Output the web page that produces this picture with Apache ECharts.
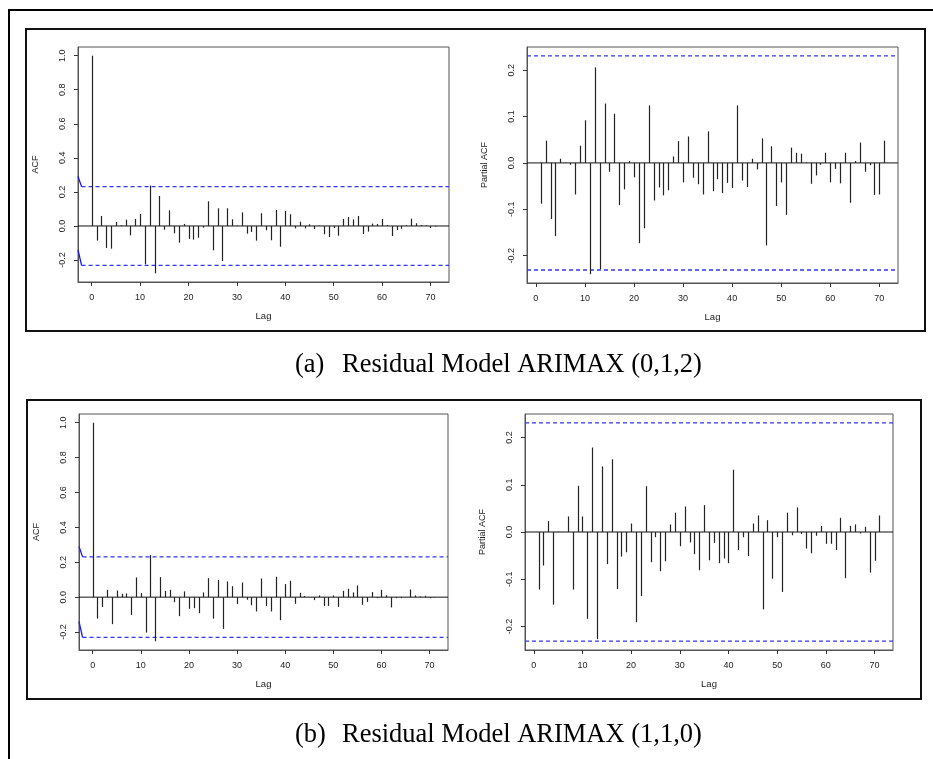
<!DOCTYPE html>
<html>
<head>
<meta charset="utf-8">
<title>Residual ACF / PACF</title>
<script src="https://cdn.jsdelivr.net/npm/echarts@6.0.0/dist/echarts.min.js"></script>
<style>
html, body { margin: 0; padding: 0; background: #fff; }
#chart { width: 933px; height: 759px; }
</style>
</head>
<body>
<div id="chart"></div>
<script>
// lags
const acfLags = [0, 1, 2, 3, 4, 5, 6, 7, 8, 9, 10, 11, 12, 13, 14, 15, 16, 17, 18, 19, 20, 21, 22, 23, 24, 25, 26, 27, 28, 29, 30, 31, 32, 33, 34, 35,
  36, 37, 38, 39, 40, 41, 42, 43, 44, 45, 46, 47, 48, 49, 50, 51, 52, 53, 54, 55, 56, 57, 58, 59, 60, 61, 62, 63, 64, 65, 66, 67, 68, 69, 70, 71]
const pacfLags = [1, 2, 3, 4, 5, 6, 7, 8, 9, 10, 11, 12, 13, 14, 15, 16, 17, 18, 19, 20, 21, 22, 23, 24, 25, 26, 27, 28, 29, 30, 31, 32, 33, 34, 35,
  36, 37, 38, 39, 40, 41, 42, 43, 44, 45, 46, 47, 48, 49, 50, 51, 52, 53, 54, 55, 56, 57, 58, 59, 60, 61, 62, 63, 64, 65, 66, 67, 68, 69, 70, 71]

// (a) ARIMAX (0,1,2)
const acfA = [1.0, -0.086, 0.059, -0.129, -0.133, 0.024, 0.005, 0.037, -0.055, 0.041, 0.071, -0.225, 0.237, -0.278, 0.176, -0.022, 0.092, -0.043,
  -0.098, 0.012, -0.076, -0.080, -0.069, -0.010, 0.145, -0.143, 0.104, -0.206, 0.104, 0.039, 0.003, 0.080, -0.045, -0.035, -0.086, 0.075,
  -0.025, -0.084, 0.094, -0.122, 0.088, 0.069, -0.014, 0.025, -0.014, 0.010, -0.018, 0.002, -0.049, -0.065, -0.012, -0.057, 0.041, 0.053,
  0.039, 0.059, -0.047, -0.033, 0.014, 0.012, 0.041, 0.006, -0.059, -0.024, -0.016, 0.004, 0.043, 0.016, 0.006, 0.004, -0.012, -0.004]
const pacfA = [-0.088, 0.048, -0.121, -0.158, 0.009, 0.001, -0.004, -0.068, 0.037, 0.092, -0.240, 0.206, -0.229, 0.128, -0.019, 0.106, -0.091,
  -0.057, 0.004, -0.031, -0.173, -0.141, 0.124, -0.081, -0.053, -0.070, -0.059, 0.014, 0.047, -0.042, 0.057, -0.032, -0.046, -0.068, 0.068,
  -0.061, -0.035, -0.065, -0.043, -0.054, 0.124, -0.038, -0.052, 0.009, -0.014, 0.053, -0.178, 0.036, -0.093, -0.042, -0.112, 0.033, 0.022,
  0.020, 0.001, -0.045, -0.027, -0.004, 0.022, -0.042, -0.013, -0.044, 0.022, -0.086, 0.004, 0.044, -0.019, -0.005, -0.069, -0.068, 0.048]

// (b) ARIMAX (1,1,0)
const acfB = [1.0, -0.123, -0.056, 0.042, -0.155, 0.038, 0.019, 0.021, -0.102, 0.113, 0.023, -0.203, 0.241, -0.253, 0.115, 0.036, 0.042, -0.029,
  -0.109, 0.033, -0.067, -0.063, -0.092, 0.027, 0.109, -0.123, 0.098, -0.182, 0.090, 0.063, -0.040, 0.084, -0.015, -0.046, -0.082, 0.107,
  -0.050, -0.082, 0.117, -0.132, 0.075, 0.094, -0.038, 0.025, 0.006, 0.001, -0.017, 0.010, -0.050, -0.050, 0.010, -0.056, 0.036, 0.048,
  0.027, 0.067, -0.044, -0.027, 0.029, -0.006, 0.042, 0.011, -0.059, -0.006, -0.006, 0.001, 0.044, 0.010, 0.004, 0.008, -0.006, -0.002]
const pacfB = [-0.122, -0.071, 0.023, -0.154, 0.001, 0.000, 0.033, -0.122, 0.098, 0.033, -0.184, 0.179, -0.227, 0.139, -0.068, 0.154, -0.121,
  -0.052, -0.043, 0.018, -0.191, -0.136, 0.097, -0.064, -0.011, -0.083, -0.062, 0.016, 0.041, -0.030, 0.054, -0.022, -0.047, -0.081, 0.057,
  -0.060, -0.023, -0.066, -0.056, -0.066, 0.132, -0.038, -0.011, -0.051, 0.018, 0.035, -0.164, 0.025, -0.099, -0.011, -0.127, 0.041, -0.007,
  0.052, -0.004, -0.035, -0.045, -0.008, 0.013, -0.025, -0.025, -0.038, 0.030, -0.098, 0.013, 0.016, -0.003, 0.011, -0.086, -0.061, 0.035]

// confidence bound (1.96/sqrt(n))
const ci = 0.231
// the short solid blue stub at the left of the acf plots
const ciHeadUpper = [0.29, 0.231]
const ciHeadLower = [-0.14, -0.231]

// tick labels
const lagTicks = [0, 10, 20, 30, 40, 50, 60, 70]
const acfTicks = [-0.2, 0.0, 0.2, 0.4, 0.6, 0.8, 1.0]
const pacfTicks = [-0.2, -0.1, 0.0, 0.1, 0.2]

const captionA = ['(a)', 'Residual Model ARIMAX (0,1,2)']
const captionB = ['(b)', 'Residual Model ARIMAX (1,1,0)']

const sans = 'Liberation Sans, Arial, sans-serif'
const serif = 'Liberation Serif, Times New Roman, serif'

const panels = [
  {grid: {left: 78, top: 47, width: 371, height: 235}, lags: acfLags, vals: acfA, yMin: -0.329, yMax: 1.051, xMin: -2.84, xMax: 73.84, ticks: acfTicks, name: 'ACF', acf: true},
  {grid: {left: 527, top: 47, width: 371, height: 236}, lags: pacfLags, vals: pacfA, yMin: -0.259, yMax: 0.250, xMin: -1.8, xMax: 73.8, ticks: pacfTicks, name: 'Partial ACF', acf: false},
  {grid: {left: 79, top: 414, width: 369, height: 236}, lags: acfLags, vals: acfB, yMin: -0.303, yMax: 1.050, xMin: -2.84, xMax: 73.84, ticks: acfTicks, name: 'ACF', acf: true},
  {grid: {left: 525, top: 414, width: 368, height: 236}, lags: pacfLags, vals: pacfB, yMin: -0.250, yMax: 0.250, xMin: -1.8, xMax: 73.8, ticks: pacfTicks, name: 'Partial ACF', acf: false}
]

// horizontal segment from x0 to x1 at height y
function hSegment(i, x0, x1, y, style, z) {
  return {
    type: 'custom', xAxisIndex: i, yAxisIndex: i, silent: true, z: z,
    data: [[x0, x1, y]],
    renderItem: function (params, api) {
      const a = api.coord([api.value(0), api.value(2)])
      const b = api.coord([api.value(1), api.value(2)])
      return {type: 'line', shape: {x1: a[0], y1: a[1], x2: b[0], y2: b[1]}, style: style}
    }
  }
}

const grids = []
const xAxes = []
const yAxes = []
const series = []

panels.forEach((p, i) => {
  grids.push(Object.assign({show: true, borderColor: '#555', borderWidth: 1}, p.grid))
  xAxes.push({
    type: 'value', gridIndex: i, min: p.xMin, max: p.xMax,
    name: 'Lag', nameLocation: 'middle', nameGap: 29,
    nameTextStyle: {fontFamily: sans, fontSize: 9.5, color: '#222'},
    axisLine: {show: true, onZero: false, lineStyle: {color: '#555', width: 1}},
    axisTick: {show: true, inside: false, length: 4, customValues: lagTicks, lineStyle: {color: '#333', width: 1}},
    axisLabel: {customValues: lagTicks, margin: 11, fontFamily: sans, fontSize: 9, color: '#222'},
    splitLine: {show: false}
  })
  yAxes.push({
    type: 'value', gridIndex: i, min: p.yMin, max: p.yMax,
    name: p.name, nameLocation: 'middle', nameGap: 38, nameRotate: 90,
    nameTextStyle: {fontFamily: sans, fontSize: 9, color: '#222'},
    axisLine: {show: true, onZero: false, lineStyle: {color: '#555', width: 1}},
    axisTick: {show: true, inside: false, length: 4, customValues: p.ticks, lineStyle: {color: '#333', width: 1}},
    axisLabel: {
      customValues: p.ticks, rotate: 90, margin: 11, fontFamily: sans, fontSize: 9, color: '#222',
      formatter: v => v.toFixed(1)
    },
    splitLine: {show: false}
  })

  // vertical spikes, R type = "h"
  series.push({
    type: 'custom', xAxisIndex: i, yAxisIndex: i,
    data: p.lags.map((l, k) => [l, p.vals[k]]),
    renderItem: function (params, api) {
      const a = api.coord([api.value(0), 0])
      const b = api.coord([api.value(0), api.value(1)])
      return {
        type: 'line',
        shape: {x1: Math.round(a[0]) + 0.5, y1: a[1], x2: Math.round(b[0]) + 0.5, y2: b[1]},
        style: {stroke: '#222', lineWidth: 1.2}
      }
    },
    z: 3
  })
  // zero line
  series.push(hSegment(i, p.xMin, p.xMax, 0, {stroke: '#111', lineWidth: 1}, 2))
  const start = p.acf ? -2.1 : p.xMin
  series.push(hSegment(i, start, p.xMax, ci, {stroke: '#3434f4', lineWidth: 1.3, lineDash: [4, 3]}, 2))
  series.push(hSegment(i, start, p.xMax, -ci, {stroke: '#3434f4', lineWidth: 1.3, lineDash: [4, 3]}, 2))
  if (p.acf) {
    [ciHeadUpper, ciHeadLower].forEach(h => {
      series.push({
        type: 'line', xAxisIndex: i, yAxisIndex: i, symbol: 'none', silent: true,
        data: [[p.xMin, h[0]], [start, h[1]]],
        lineStyle: {color: '#1515ff', width: 1.3}, z: 2
      })
    })
  }
})

const chart = echarts.init(document.getElementById('chart'))
const capFont = '26.5px ' + serif
const option = {
  animation: false,
  backgroundColor: '#fff',
  graphic: [
    {type: 'rect', shape: {x: 9, y: 10, width: 940, height: 770}, style: {fill: 'none', stroke: '#000', lineWidth: 2}, z: -10},
    {type: 'rect', shape: {x: 26, y: 29, width: 899, height: 302}, style: {fill: 'none', stroke: '#111', lineWidth: 2}, z: -10},
    {type: 'rect', shape: {x: 27, y: 400, width: 894, height: 299}, style: {fill: 'none', stroke: '#111', lineWidth: 2}, z: -10},
    {type: 'text', x: 295, y: 365, style: {text: captionA[0], font: capFont, fill: '#000', verticalAlign: 'middle'}},
    {type: 'text', x: 342, y: 365, style: {text: captionA[1], font: capFont, fill: '#000', verticalAlign: 'middle'}},
    {type: 'text', x: 295, y: 735, style: {text: captionB[0], font: capFont, fill: '#000', verticalAlign: 'middle'}},
    {type: 'text', x: 342, y: 735, style: {text: captionB[1], font: capFont, fill: '#000', verticalAlign: 'middle'}}
  ],
  grid: grids,
  xAxis: xAxes,
  yAxis: yAxes,
  series: series
}
chart.setOption(option)
</script>
</body>
</html>
